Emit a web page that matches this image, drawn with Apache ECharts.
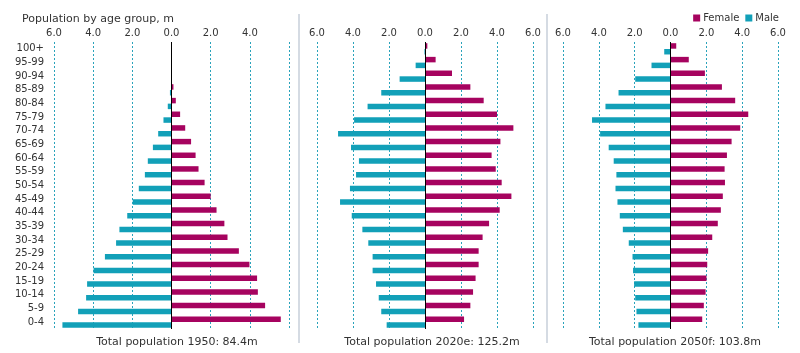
<!DOCTYPE html>
<html>
<head>
<meta charset="utf-8">
<script src="https://cdn.jsdelivr.net/npm/echarts@6/dist/echarts.min.js"></script>
<style>
  html, body { margin: 0; padding: 0; background: #fff; }
  #main { width: 800px; height: 353px; }
</style>
</head>
<body>
<div id="main"></div>
<script>
// age groups, bottom (0-4) to top (100+)
const ages = ['0-4', '5-9', '10-14', '15-19', '20-24', '25-29', '30-34', '35-39', '40-44', '45-49',
    '50-54', '55-59', '60-64', '65-69', '70-74', '75-79', '80-84', '85-89', '90-94', '95-99', '100+'];

// population in millions
const female1950 = [5.58, 4.78, 4.41, 4.37, 3.98, 3.44, 2.86, 2.70, 2.30, 2.00, 1.69, 1.38, 1.23, 1.00, 0.70, 0.44, 0.22, 0.10, 0.02, 0.01, 0];
const male1950 = [5.57, 4.77, 4.36, 4.31, 3.98, 3.40, 2.83, 2.66, 2.26, 1.98, 1.67, 1.36, 1.21, 0.95, 0.68, 0.41, 0.19, 0.08, 0.02, 0, 0];
const female2020 = [2.17, 2.52, 2.67, 2.81, 2.98, 2.98, 3.20, 3.56, 4.15, 4.80, 4.26, 3.93, 3.70, 4.19, 4.91, 4.00, 3.26, 2.52, 1.50, 0.59, 0.13];
const male2020 = [2.13, 2.43, 2.57, 2.72, 2.91, 2.91, 3.15, 3.48, 4.07, 4.72, 4.17, 3.83, 3.67, 4.11, 4.83, 3.94, 3.19, 2.43, 1.41, 0.52, 0.03];
const female2050 = [1.77, 1.86, 1.96, 2.01, 2.05, 2.10, 2.33, 2.64, 2.81, 2.92, 3.04, 3.02, 3.15, 3.41, 3.89, 4.34, 3.61, 2.87, 1.92, 1.02, 0.32];
const male2050 = [1.79, 1.90, 1.97, 2.03, 2.09, 2.12, 2.33, 2.66, 2.83, 2.96, 3.07, 3.02, 3.17, 3.45, 3.93, 4.38, 3.63, 2.90, 1.97, 1.06, 0.35];

const totals = ['Total population 1950: 84.4m', 'Total population 2020e: 125.2m', 'Total population 2050f: 103.8m'];

const FEMALE = '#a6035f';
const MALE = '#12a0b8';
const TEXT = '#333';

const panels = [
    {female: female1950, male: male1950, left: 54, width: 235, center: 172},
    {female: female2020, male: male2020, left: 317, width: 216, center: 427},
    {female: female2050, male: male2050, left: 563, width: 215, center: 670},
];

const chart = echarts.init(document.getElementById('main'));

const grid = [], xAxis = [], yAxis = [], series = [];
const titles = [{
    text: 'Population by age group, m',
    left: 17,
    top: 9,
    textStyle: {fontSize: 11, fontWeight: 'normal', color: TEXT}
}];

panels.forEach((p, i) => {
    grid.push({left: p.left, width: p.width, top: 42, height: 287});
    xAxis.push({
        type: 'value',
        gridIndex: i,
        position: 'top',
        min: -6,
        max: 6,
        interval: 2,
        axisLine: {show: false},
        axisTick: {show: false},
        axisLabel: {
            fontSize: 10,
            color: TEXT,
            margin: 4,
            showMaxLabel: i !== 0,
            formatter: v => Math.abs(v).toFixed(1)
        },
        splitLine: {lineStyle: {color: '#2aa3bb', width: 1, type: [2, 2]}}
    });
    yAxis.push({
        type: 'category',
        gridIndex: i,
        data: ages,
        axisLine: {show: false},
        axisTick: {show: false},
        axisLabel: {show: i === 0, fontSize: 10, color: TEXT, margin: 10}
    });
    series.push({
        name: 'Female',
        type: 'bar',
        xAxisIndex: i,
        yAxisIndex: i,
        barWidth: 5.5,
        barGap: '5%',
        itemStyle: {color: FEMALE},
        data: p.female,
        markLine: {
            silent: true,
            symbol: 'none',
            label: {show: false},
            lineStyle: {color: '#000', type: 'solid', width: 1},
            data: [{xAxis: 0}]
        }
    });
    series.push({
        name: 'Male',
        type: 'bar',
        xAxisIndex: i,
        yAxisIndex: i,
        barWidth: 5.5,
        barGap: '5%',
        itemStyle: {color: MALE},
        data: p.male.map(v => -v)
    });
    titles.push({
        text: totals[i],
        left: p.center,
        top: 332,
        textAlign: 'center',
        textStyle: {fontSize: 11, fontWeight: 'normal', color: TEXT}
    });
});

const option = {
    animation: false,
    textStyle: {fontFamily: 'DejaVu Sans'},
    title: titles,
    legend: {
        data: ['Female', 'Male'],
        right: 16,
        top: 8,
        icon: 'rect',
        itemWidth: 7,
        itemHeight: 7,
        itemGap: 6,
        textStyle: {fontSize: 10, color: TEXT, padding: [0, 0, 0, -2]}
    },
    grid: grid,
    xAxis: xAxis,
    yAxis: yAxis,
    series: series,
    graphic: [
        {type: 'line', shape: {x1: 299, y1: 14, x2: 299, y2: 343}, style: {stroke: '#d5dbe3', lineWidth: 2}},
        {type: 'line', shape: {x1: 547, y1: 14, x2: 547, y2: 343}, style: {stroke: '#d5dbe3', lineWidth: 2}}
    ]
};
chart.setOption(option);
</script>
</body>
</html>
